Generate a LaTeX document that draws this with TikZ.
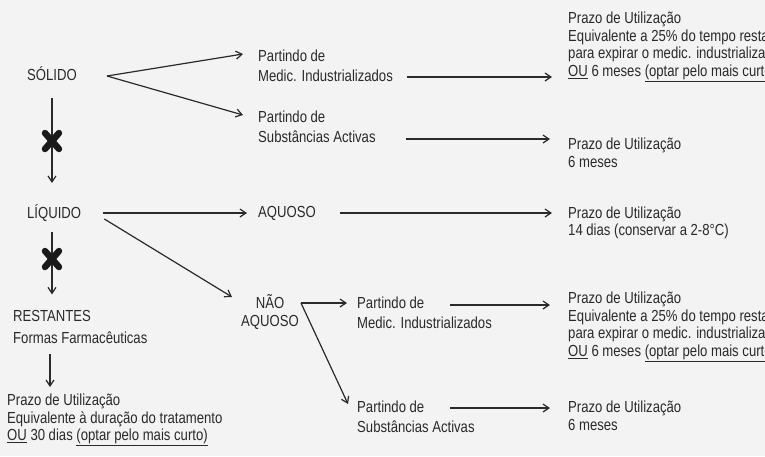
\documentclass[tikz,border=0pt]{standalone}
\usepackage{fontspec}
\setmainfont[FakeStretch=0.82]{Liberation Sans}
\usetikzlibrary{arrows.meta}
\definecolor{bg}{HTML}{F3F3F3}
\definecolor{ink}{HTML}{2A2A2A}
\begin{document}
\begin{tikzpicture}[x=1pt,y=-1pt,
  txt/.style={text=ink, inner sep=0pt, align=left, font=\fontsize{16}{17.5}\selectfont},
  arr/.style={draw=ink, line width=1.2pt, -{Straight Barb[length=6pt,width=8pt]}},
  cross/.style={line width=6.5pt, line cap=round, draw=black!90}]
\useasboundingbox (0,0) rectangle (765,456);
\fill[bg] (0,0) rectangle (765,456);
\clip (0,0) rectangle (765,456);
% left column
\node[txt, anchor=west] (sol) at (27,74) {SÓLIDO};
\node[txt, anchor=west] (liq) at (27,213) {LÍQUIDO};
\node[txt, anchor=west] (res) at (13,327) {RESTANTES\\[4pt]Formas Farmacêuticas};
\node[txt, anchor=west] (pb) at (7,420) {Prazo de Utilização\\Equivalente à duração do tratamento\\\underline{OU} 30 dias \underline{(optar pelo mais curto)}};
% middle
\node[txt, anchor=west] (pmi) at (258,66) {Partindo de\\[3pt]Medic. Industrializados};
\node[txt, anchor=west] (psa) at (258,127) {Partindo de\\[3pt]Substâncias Activas};
\node[txt, anchor=west] (aq) at (258,213) {AQUOSO};
\node[txt, align=center] (na) at (270,312) {NÃO\\AQUOSO};
\node[txt, anchor=west] (pmi2) at (357,313) {Partindo de\\[3pt]Medic. Industrializados};
\node[txt, anchor=west] (psa2) at (357,417) {Partindo de\\[3pt]Substâncias Activas};
% right column
\node[txt, anchor=west] (r1) at (568,47) {Prazo de Utilização\\Equivalente a 25\% do tempo restante\\para expirar o medic. industrializado\\\underline{OU} 6 meses \underline{(optar pelo mais curto)}};
\node[txt, anchor=west] (r2) at (568,153) {Prazo de Utilização\\6 meses};
\node[txt, anchor=west] (r3) at (568,223) {Prazo de Utilização\\14 dias (conservar a 2-8°C)};
\node[txt, anchor=west] (r4) at (568,327) {Prazo de Utilização\\Equivalente a 25\% do tempo restante\\para expirar o medic. industrializado\\\underline{OU} 6 meses \underline{(optar pelo mais curto)}};
\node[txt, anchor=west] (r5) at (568,416) {Prazo de Utilização\\6 meses};
% connectors
\coordinate (s0) at ([shift={(30,2)}]sol.east);
\draw[arr] (s0) -- ([shift={(-15,-12)}]pmi.west);
\draw[arr] (s0) -- ([shift={(-15,-12)}]psa.west);
\coordinate (a1) at ([shift={(14,11)}]pmi.east);
\draw[arr, shorten >=16pt] (a1) -- (a1 -| r1.west);
\coordinate (a2) at ([shift={(30,12)}]psa.east);
\draw[arr, shorten >=18pt] (a2) -- (a2 -| r2.west);
\coordinate (l0) at ([shift={(22,0)}]liq.east);
\draw[arr, shorten >=11pt] (l0) -- (l0 -| aq.west);
\coordinate (a3) at ([shift={(24,0)}]aq.east);
\draw[arr, shorten >=16pt] (a3) -- (a3 -| r3.west);
\coordinate (l1) at ([shift={(23,6)}]liq.east);
\draw[arr] (l1) -- ([shift={(-9,-15)}]na.west);
\coordinate (n0) at ([shift={(2,-9)}]na.east);
\draw[arr, shorten >=10pt] (n0) -- (n0 -| pmi2.west);
\draw[arr] (n0) -- ([shift={(-9,-13)}]psa2.west);
\coordinate (a4) at ([shift={(93,-8)}]pmi2.west);
\draw[arr, shorten >=18pt] (a4) -- (a4 -| r4.west);
\coordinate (a5) at ([shift={(93,-9)}]psa2.west);
\draw[arr, shorten >=18pt] (a5) -- (a5 -| r5.west);
% vertical flow with crosses
\coordinate (v1) at ([shift={(0,24)}]sol.center);
\draw[arr, shorten >=30pt] (v1) -- (v1 |- liq.center);
\coordinate (x1) at ([shift={(0,43)}]v1);
\draw[cross] ([shift={(-7,-8)}]x1) -- ([shift={(7,8)}]x1);
\draw[cross] ([shift={(7,-8)}]x1) -- ([shift={(-7,8)}]x1);
\coordinate (v2) at ([shift={(0,19)}]v1 |- liq.center);
\draw[arr, shorten >=16pt] (v2) -- (v2 |- res.north);
\coordinate (x2) at ([shift={(0,27)}]v2);
\draw[cross] ([shift={(-7,-8)}]x2) -- ([shift={(7,8)}]x2);
\draw[cross] ([shift={(7,-8)}]x2) -- ([shift={(-7,8)}]x2);
\coordinate (v3) at ([shift={(37,27)}]res.west);
\draw[arr] (v3) -- ([shift={(0,33)}]v3);
\end{tikzpicture}
\end{document}
